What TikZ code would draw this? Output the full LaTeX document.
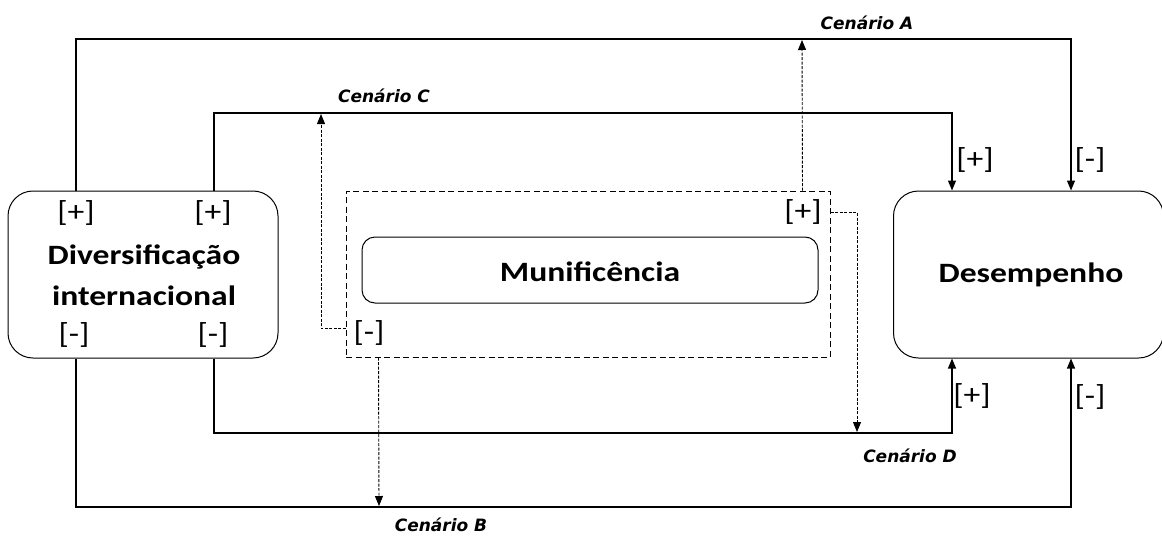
\documentclass[tikz,border=0pt]{standalone}
\usepackage{fontspec}
\setmainfont{Carlito}
\newfontfamily\cenfont{DejaVu Sans}
\usetikzlibrary{arrows.meta}
\newcommand\wideA[1]{\scalebox{1.2}[1]{#1}}
\newcommand\wideB[1]{\scalebox{1.16}[1]{#1}}
\begin{document}
\begin{tikzpicture}[x=1pt,y=-1pt,
  box/.style={draw,line width=1pt,rounded corners=25pt,inner sep=0pt},
  big/.style={font=\fontsize{28}{41}\selectfont\bfseries,align=center},
  sign/.style={font=\fontsize{29}{30}\selectfont,inner sep=0pt},
  cen/.style={font=\cenfont\fontsize{17}{19}\selectfont\bfseries\itshape,inner sep=0pt},
  conn/.style={line width=1.2pt,-{Triangle[length=10pt,width=8pt]}},
  dconn/.style={line width=0.9pt,dash pattern=on 3pt off 1.5pt,-{Triangle[length=10pt,width=8pt]}},
  dbox/.style={draw,line width=1pt,dash pattern=on 6pt off 3.5pt,inner sep=0pt}]
\useasboundingbox (0,0) rectangle (1162,536);
\fill[white] (0,0) rectangle (1162,536);
% nodes
\node[box,minimum width=270pt,minimum height=167pt] (div) at (143,274.5) {};
\node[box,minimum width=270pt,minimum height=167pt] (des) at (1028.5,274.5) {};
\node[dbox,minimum width=484pt,minimum height=166pt] (mun) at (588,274) {};
\node[box,rounded corners=13pt,minimum width=456pt,minimum height=66pt] (inner) at (590,270) {};
\node[big] (divt) at (144,275) {\wideA{Diversificação}\\\wideA{internacional}};
\node[big] (munt) at (590,272) {\wideA{Munificência}};
\node[big] (dest) at (1031,275) {\wideA{Desempenho}};
% signs
\node[sign] (s1) at (76,213) {\wideB{[+]}};
\node[sign] (s2) at (213,213) {\wideB{[+]}};
\node[sign] (s3) at (74,335) {\wideB{[-]}};
\node[sign] (s4) at (213,335) {\wideB{[-]}};
\node[sign] (s5) at (803,212) {\wideB{[+]}};
\node[sign] (s6) at (369,333) {\wideB{[-]}};
\node[sign] (s7) at (975,160) {\wideB{[+]}};
\node[sign] (s8) at (1090,160) {\wideB{[-]}};
\node[sign] (s9) at (972,396) {\wideB{[+]}};
\node[sign] (s10) at (1090,397) {\wideB{[-]}};
% scenario labels
\node[cen] (cA) at (867,23) {Cenário A};
\node[cen] (cC) at (384,96) {Cenário C};
\node[cen] (cD) at (910,456) {Cenário D};
\node[cen] (cB) at (441,525) {Cenário B};
% helper coordinates
\coordinate (yA) at (500,39);
\coordinate (yC) at (500,113);
\coordinate (yD) at (500,433);
\coordinate (yB) at (500,507);
\coordinate (tipA) at (802,40);
\coordinate (tipC) at (321,114);
\coordinate (tipD) at (857,432);
\coordinate (tipB) at (379,506);
% solid connectors
\draw[conn] ([xshift=-67pt]div.north) |- (yA) -| ([xshift=42.5pt]des.north);
\draw[conn] ([xshift=71pt]div.north) |- (yC) -| ([xshift=-76.5pt]des.north);
\draw[conn] ([xshift=71pt]div.south) |- (yD) -| ([xshift=-76.5pt]des.south);
\draw[conn] ([xshift=-67pt]div.south) |- (yB) -| ([xshift=42.5pt]des.south);
% dashed connectors
\draw[dconn] ([xshift=-28pt]mun.north east) -- (tipA);
\draw[dconn] ([yshift=29pt]mun.south west) -| (tipC);
\draw[dconn] ([yshift=-22pt]mun.north east) -| (tipD);
\draw[dconn] ([xshift=33pt]mun.south west) -- (tipB);
\end{tikzpicture}
\end{document}
